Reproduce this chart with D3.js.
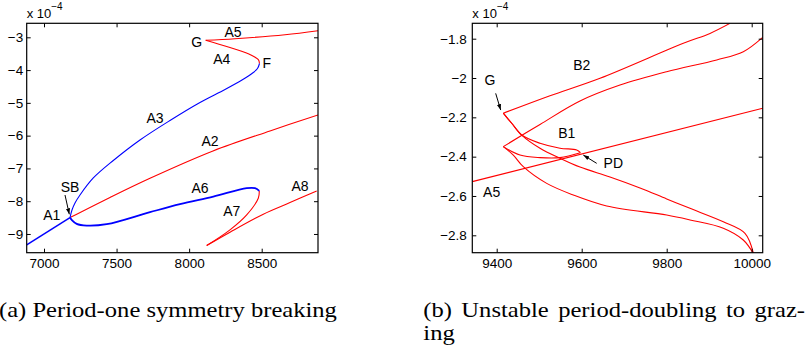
<!DOCTYPE html>
<html>
<head>
<meta charset="utf-8">
<script src="https://cdn.jsdelivr.net/npm/d3@7"></script>
</head>
<body style="margin:0;background:#fff">
<svg id="fig" width="810" height="353"></svg>
<script>
// ---------- data (y values in units of 1e-4) ----------

// (a) period-one symmetry breaking
const aXTicks = [7000, 7500, 8000, 8500];
const aXTickLabels = ["7000", "7500", "8000", "8500"];
const aYTicks = [-9, -8, -7, -6, -5, -4, -3];
const aYTickLabels = ["\u22129", "\u22128", "\u22127", "\u22126", "\u22125", "\u22124", "\u22123"];

const branchA1 = [[6880.8, -9.332], [7179.1, -8.500]];
const branchA2 = [[7179.1, -8.500], [7454.7, -7.884], [7730.3, -7.299], [8164.4, -6.466],
                  [8557.1, -5.857], [8887.9, -5.369]];
const branchA3 = [[7179.1, -8.500], [7192.9, -8.269], [7213.6, -8.055], [7248.0, -7.811],
                  [7339.7, -7.292], [7477.5, -6.758], [7661.4, -6.133], [7868.1, -5.538],
                  [8074.8, -4.989], [8247.1, -4.592], [8364.2, -4.303], [8433.1, -4.104],
                  [8471.0, -3.952], [8484.8, -3.799]];
const branchA4 = [[8484.8, -3.799], [8478.0, -3.690], [8455.0, -3.610], [8407.7, -3.500],
                  [8269.9, -3.296], [8114.1, -3.091]];
const branchA5 = [[8114.1, -3.091], [8315.9, -3.043], [8660.4, -2.921], [8887.9, -2.799]];
const branchA6 = [[7179.1, -8.500], [7190.9, -8.570], [7225.3, -8.692], [7294.2, -8.744],
                  [7432.0, -8.701], [7730.3, -8.335], [7937.0, -8.091], [8166.5, -7.860],
                  [8396.6, -7.604], [8453.8, -7.604], [8483.4, -7.686]];
const branchA7 = [[8483.4, -7.686], [8476.5, -7.909], [8396.6, -8.418], [8281.5, -8.875],
                  [8121.0, -9.354]];
const branchA8 = [[8121.0, -9.354], [8281.5, -8.945], [8511.0, -8.396], [8694.9, -8.043],
                  [8878.9, -7.686]];

const aLabels = [
  ["G", 8052.1, -3.134], ["A5", 8302.2, -2.838], ["A4", 8224.4, -3.671], ["F", 8534.4, -3.793],
  ["A3", 7764.8, -5.471], ["A2", 8143.7, -6.154], ["SB", 7179.1, -7.558], ["A1", 7053.1, -8.421],
  ["A6", 8074.8, -7.606], ["A7", 8293.3, -8.290], ["A8", 8763.8, -7.536]
];
const aArrows = [[[7144.7, -7.811], [7174.3, -8.400]]];

// (b) unstable period-doubling to grazing
const bXTicks = [9400, 9600, 9800, 10000];
const bXTickLabels = ["9400", "9600", "9800", "10000"];
const bYTicks = [-2.8, -2.6, -2.4, -2.2, -2, -1.8];
const bYTickLabels = ["\u22122.8", "\u22122.6", "\u22122.4", "\u22122.2", "\u22122", "\u22121.8"];

const branchB2 = [[9415.5, -2.179], [9525.4, -2.090], [9643.1, -2.001], [9839.1, -1.823],
                  [9901.9, -1.773], [9949.0, -1.722]];
const branchUpper = [[9415.5, -2.349], [9501.9, -2.236], [9596.0, -2.117], [9690.1, -2.036],
                     [9800.0, -1.968], [9917.7, -1.908], [9980.3, -1.866], [10025.9, -1.793]];
const branchA5b = [[9342.6, -2.527], [10025.9, -2.154]];
const branchFromG = [[9415.5, -2.179], [9435.3, -2.230], [9458.8, -2.290], [9501.9, -2.357],
                     [9548.9, -2.408], [9596.0, -2.453], [9666.6, -2.503], [9737.2, -2.559],
                     [9800.0, -2.615], [9854.8, -2.663], [9933.2, -2.731], [9984.2, -2.790],
                     [10004.5, -2.895]];
const branchFromCusp = [[9415.5, -2.349], [9439.1, -2.392], [9462.6, -2.451], [9517.7, -2.536],
                        [9580.2, -2.595], [9658.8, -2.651], [9800.0, -2.697], [9854.8, -2.722],
                        [9933.2, -2.764], [9980.2, -2.824], [10004.5, -2.895]];
const loopB1Top = [[9415.5, -2.179], [9435.3, -2.230], [9458.8, -2.290], [9501.9, -2.332],
                   [9548.9, -2.357], [9588.2, -2.366], [9597.0, -2.380]];
const loopB1Bottom = [[9415.5, -2.349], [9454.8, -2.392], [9501.9, -2.405], [9548.9, -2.405],
                      [9597.0, -2.380]];

const bLabels = [
  ["G", 9384.2, -2.010], ["B2", 9600.0, -1.934], ["B1", 9564.7, -2.281],
  ["PD", 9674.4, -2.434], ["A5", 9388.2, -2.578]
];
const bArrows = [[[9397.6, -2.078], [9409.4, -2.163]], [[9635.3, -2.434], [9603.8, -2.392]]];

const captionA = "(a) Period-one symmetry breaking";
const captionB1 = "(b) Unstable period-doubling to graz-";
const captionB2 = "ing";

// ---------- drawing ----------
const SANS = "Liberation Sans";
const SERIF = "Liberation Serif";
const RED = "#ff0000", BLUE = "#0000ff";
const svg = d3.select("#fig");

svg.append("defs").append("marker")
  .attr("id", "head").attr("viewBox", "0 0 10 10")
  .attr("refX", 10).attr("refY", 5)
  .attr("markerWidth", 6).attr("markerHeight", 6)
  .attr("markerUnits", "userSpaceOnUse")
  .attr("orient", "auto")
  .append("path").attr("d", "M0,1.5 L10,5 L0,8.5 Z").attr("fill", "#000");

function panel(cfg) {
  const { id, box, xDomain, yDomain, xTicks, xTickLabels, yTicks, yTickLabels, curves, labels, arrows, yPad } = cfg;
  const x = d3.scaleLinear().domain(xDomain).range([box.x0, box.x1]);
  const y = d3.scaleLinear().domain(yDomain).range([box.y1, box.y0]);
  const g = svg.append("g");

  g.append("clipPath").attr("id", "clip-" + id)
    .append("rect").attr("x", box.x0).attr("y", box.y0)
    .attr("width", box.x1 - box.x0).attr("height", box.y1 - box.y0);

  const line = d3.line().x(d => x(d[0])).y(d => y(d[1])).curve(d3.curveCatmullRom.alpha(0.5));
  const plot = g.append("g").attr("clip-path", `url(#clip-${id})`);
  curves.forEach(c => {
    plot.append("path").attr("d", line(c.data)).attr("fill", "none")
      .attr("stroke", c.color).attr("stroke-width", c.width || 1.1)
      .attr("stroke-linejoin", "round");
  });

  // axes with inward ticks on all four sides
  const styleAxis = sel => {
    sel.select(".domain").remove();
    sel.selectAll(".tick line").attr("stroke", "#000").attr("stroke-width", 1);
    sel.selectAll("text").attr("fill", "#000")
      .attr("font-family", SANS).attr("font-size", 13.5);
  };
  g.append("g").attr("transform", `translate(0,${box.y1})`)
    .call(d3.axisBottom(x).tickValues(xTicks).tickFormat((d, i) => xTickLabels[i])
      .tickSizeInner(-4).tickSizeOuter(0).tickPadding(5.5)).call(styleAxis);
  g.append("g").attr("transform", `translate(0,${box.y0})`)
    .call(d3.axisTop(x).tickValues(xTicks).tickFormat("")
      .tickSizeInner(-4).tickSizeOuter(0)).call(styleAxis);
  g.append("g").attr("transform", `translate(${box.x0},0)`)
    .call(d3.axisLeft(y).tickValues(yTicks).tickFormat((d, i) => yTickLabels[i])
      .tickSizeInner(-4).tickSizeOuter(0).tickPadding(yPad)).call(styleAxis);
  g.append("g").attr("transform", `translate(${box.x1},0)`)
    .call(d3.axisRight(y).tickValues(yTicks).tickFormat("")
      .tickSizeInner(-4).tickSizeOuter(0)).call(styleAxis);

  g.append("rect").attr("x", box.x0).attr("y", box.y0)
    .attr("width", box.x1 - box.x0).attr("height", box.y1 - box.y0)
    .attr("fill", "none").attr("stroke", "#000").attr("stroke-width", 1.2);

  // exponent note
  const ex = g.append("text").attr("x", box.x0).attr("y", box.y0 - 5)
    .attr("font-family", SANS).attr("font-size", 13);
  ex.append("tspan").text("x 10");
  ex.append("tspan").attr("dy", -8).attr("font-size", 10).text("\u22124");

  labels.forEach(([t, lx, ly]) => {
    g.append("text").attr("x", x(lx)).attr("y", y(ly)).attr("dy", "0.36em")
      .attr("text-anchor", "middle").attr("font-family", SANS).attr("font-size", 14).text(t);
  });
  arrows.forEach(([a, b]) => {
    g.append("line").attr("x1", x(a[0])).attr("y1", y(a[1]))
      .attr("x2", x(b[0])).attr("y2", y(b[1]))
      .attr("stroke", "#000").attr("stroke-width", 1).attr("marker-end", "url(#head)");
  });
}

panel({
  id: "a", box: { x0: 26.7, x1: 318, y0: 23.3, y1: 252.7 },
  xDomain: [6880.8, 8887.9], yDomain: [-9.571, -2.573],
  xTicks: aXTicks, xTickLabels: aXTickLabels, yTicks: aYTicks, yTickLabels: aYTickLabels, yPad: 3.5,
  curves: [
    { data: branchA2, color: RED }, { data: branchA4, color: RED }, { data: branchA5, color: RED },
    { data: branchA7, color: RED }, { data: branchA8, color: RED },
    { data: branchA1, color: BLUE, width: 1.5 }, { data: branchA3, color: BLUE },
    { data: branchA6, color: BLUE, width: 1.8 }
  ],
  labels: aLabels, arrows: aArrows
});

panel({
  id: "b", box: { x0: 472.3, x1: 762.7, y0: 23.3, y1: 252.7 },
  xDomain: [9342.6, 10025.9], yDomain: [-2.8885, -1.7217],
  xTicks: bXTicks, xTickLabels: bXTickLabels, yTicks: bYTicks, yTickLabels: bYTickLabels, yPad: 5.5,
  curves: [
    { data: branchB2, color: RED }, { data: branchUpper, color: RED }, { data: branchA5b, color: RED },
    { data: branchFromG, color: RED }, { data: branchFromCusp, color: RED },
    { data: loopB1Top, color: RED }, { data: loopB1Bottom, color: RED }
  ],
  labels: bLabels, arrows: bArrows
});

// ---------- sub-figure captions (justified serif lines, slightly widened face) ----------
function capText(str) {
  return svg.append("text").attr("x", 0).attr("y", 0)
    .attr("font-family", SERIF).attr("font-size", 21).text(str);
}
function place(node, x, y, sx) {
  node.attr("transform", `translate(${x},${y}) scale(${sx},1)`);
}
const capA = capText(captionA);
const stretch = 338 / capA.node().getComputedTextLength();
place(capA, -1, 317, stretch);

function justify(str, x0, x1, y) {
  const words = str.split(" ");
  const nodes = words.map(w => capText(w));
  const widths = nodes.map(n => n.node().getComputedTextLength() * stretch);
  const gap = (x1 - x0 - d3.sum(widths)) / (words.length - 1);
  let cx = x0;
  nodes.forEach((n, i) => {
    place(n, cx, y, stretch);
    cx += widths[i] + gap;
  });
}
justify(captionB1, 423.3, 805, 317);
place(capText(captionB2), 423.3, 340, stretch);
</script>
</body>
</html>
